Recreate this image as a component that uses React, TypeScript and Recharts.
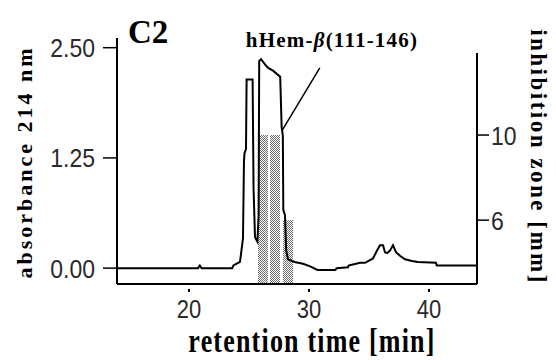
import React from 'react';
import { ComposedChart, Line, XAxis, YAxis, ReferenceLine, ReferenceArea } from 'recharts';

// retention time [min] of the absorbance trace
const retentionTime = [
  14.0, 20.75, 20.9, 21.05, 23.6, 23.7, 24.25, 24.5, 24.58, 24.62, 24.75, 24.8,
  25.3, 25.38, 25.5, 25.7, 25.8, 25.85, 26.0, 26.4, 26.6, 27.0, 27.6, 27.72,
  27.82, 27.86, 28.0, 28.1, 28.25, 28.8, 29.5, 30.1, 30.7, 32.2, 32.3, 33.25,
  33.3, 34.25, 34.67, 35.08, 35.33, 35.67, 35.92, 36.17, 36.33, 36.5, 36.75,
  37.0, 37.25, 37.58, 38.0, 38.58, 39.08, 40.58, 40.65, 44.0,
];
// absorbance 214 nm
const absorbance = [
  0.0, 0.0, 0.03, 0.0, 0.0, 0.03, 0.07, 0.34, 1.2, 1.3, 1.35, 2.14,
  2.14, 0.9, 0.35, 0.3, 0.6, 2.35, 2.37, 2.3, 2.27, 2.24, 2.17, 1.6,
  1.5, 0.66, 0.6, 0.2, 0.1, 0.07, 0.05, 0.02, -0.02, -0.02, 0.0, 0.01,
  0.03, 0.06, 0.06, 0.09, 0.11, 0.2, 0.26, 0.26, 0.18, 0.17, 0.2,
  0.26, 0.18, 0.14, 0.1, 0.08, 0.07, 0.06, 0.03, 0.03,
];
// collected fractions (start / end of collection, min) and their inhibition zones [mm]
const fractionStart = [25.75, 26.75, 27.83];
const fractionEnd = [26.58, 27.58, 28.67];
const inhibitionZone = [10, 10, 6];

const xTicks = [20, 30, 40];
const leftTicks = [0, 1.25, 2.5];
const rightTicks = [6, 10];

// annotation pointer (retention time, absorbance)
const pointerTime = [30.9, 27.75];
const pointerAbs = [2.27, 1.56];

const traceData = retentionTime.map((t, i) => ({ t, abs: absorbance[i] }));

const serif = '"Liberation Serif", "Times New Roman", serif';
const sans = '"Liberation Sans", Arial, sans-serif';

const XTick = (props: any) => {
  const { x, y, payload } = props;
  return (
    <g>
      <line x1={x} x2={x} y1={y + 5} y2={y + 8} stroke="#000" strokeWidth={2} />
      <text
        transform={`translate(${x},${y + 34}) scale(1,1.15)`}
        textAnchor="middle"
        fontFamily={sans}
        fontSize={22}
        fill="#2a2a2a"
      >
        {payload.value}
      </text>
    </g>
  );
};

const LeftTick = (props: any) => {
  const { x, y, payload } = props;
  return (
    <g>
      <line x1={x - 14} x2={x} y1={y} y2={y} stroke="#000" strokeWidth={1.5} />
      <text
        transform={`translate(${x - 22},${y}) scale(1,1.15)`}
        dy="0.36em"
        textAnchor="end"
        fontFamily={sans}
        fontSize={23}
        fill="#2a2a2a"
      >
        {Number(payload.value).toFixed(2)}
      </text>
    </g>
  );
};

const RightTick = (props: any) => {
  const { x, y, payload } = props;
  return (
    <g>
      <line x1={x} x2={x + 12} y1={y} y2={y} stroke="#000" strokeWidth={1.5} />
      <text
        transform={`translate(${x + 14},${y}) scale(1,1.15)`}
        dy="0.36em"
        textAnchor="start"
        fontFamily={sans}
        fontSize={23}
        fill="#2a2a2a"
      >
        {payload.value}
      </text>
    </g>
  );
};

export default function App() {
  return (
    <div style={{ position: 'absolute', left: 0, top: 0, width: 556, height: 360, background: '#fff' }}>
      <ComposedChart
        width={556}
        height={360}
        data={traceData}
        margin={{ top: 38, right: 0, bottom: 0, left: 0 }}
      >
        <defs>
          <pattern id="stipple" width="2" height="2" patternUnits="userSpaceOnUse">
            <rect x="0" y="0" width="2" height="2" fill="#ffffff" />
            <rect x="0" y="0" width="1" height="1" fill="#6a6a6a" />
            <rect x="1" y="1" width="1" height="1" fill="#6a6a6a" />
          </pattern>
        </defs>
        <XAxis
          dataKey="t"
          type="number"
          domain={[14, 44]}
          ticks={xTicks}
          height={76}
          axisLine={{ stroke: '#000', strokeWidth: 2 }}
          tickLine={false}
          tickSize={0}
          tickMargin={0}
          tick={<XTick />}
          interval={0}
        />
        <YAxis
          yAxisId="left"
          orientation="left"
          width={117}
          type="number"
          domain={[-0.18, 2.61]}
          ticks={leftTicks}
          interval={0}
          axisLine={{ stroke: '#000', strokeWidth: 2 }}
          tickLine={false}
          tickSize={0}
          tickMargin={0}
          tick={<LeftTick />}
        />
        <YAxis
          yAxisId="right"
          orientation="right"
          width={79}
          type="number"
          domain={[3, 14.56]}
          allowDataOverflow
          ticks={rightTicks}
          interval={0}
          axisLine={false}
          tickLine={false}
          tickSize={0}
          tickMargin={0}
          tick={<RightTick />}
        />
        {fractionStart.map((s, i) => (
          <ReferenceArea
            key={i}
            yAxisId="right"
            x1={s}
            x2={fractionEnd[i]}
            y1={3}
            y2={inhibitionZone[i]}
            fill="url(#stipple)"
            fillOpacity={1}
            stroke="none"
            ifOverflow="visible"
          />
        ))}
        <Line
          yAxisId="left"
          dataKey="abs"
          type="linear"
          stroke="#000"
          strokeWidth={2}
          dot={false}
          activeDot={false}
          isAnimationActive={false}
        />
        <ReferenceLine
          yAxisId="left"
          segment={[
            { x: pointerTime[0], y: pointerAbs[0] },
            { x: pointerTime[1], y: pointerAbs[1] },
          ]}
          stroke="#000"
          strokeWidth={1.5}
          ifOverflow="visible"
        />
        <ReferenceLine
          yAxisId="right"
          segment={[
            { x: 44, y: 3 },
            { x: 44, y: 13.86 },
          ]}
          stroke="#000"
          strokeWidth={2}
          ifOverflow="visible"
        />
      </ComposedChart>
      <svg
        width={556}
        height={360}
        style={{ position: 'absolute', left: 0, top: 0, pointerEvents: 'none' }}
      >
        <text x={128} y={43} fontFamily={serif} fontWeight="bold" fontSize={33} fill="#000">
          C2
        </text>
        <text
          x={332}
          y={47}
          textAnchor="middle"
          fontFamily={serif}
          fontWeight="bold"
          fontSize={21}
          letterSpacing={1.2}
          fill="#000"
        >
          hHem-<tspan fontStyle="italic">β</tspan>(111-146)
        </text>
        <text
          transform="translate(32,162) rotate(-90)"
          textAnchor="middle"
          fontFamily={serif}
          fontWeight="bold"
          fontSize={22}
          letterSpacing={3}
          fill="#000"
        >
          absorbance 214 nm
        </text>
        <text
          transform="translate(531,157) rotate(90)"
          textAnchor="middle"
          fontFamily={serif}
          fontWeight="bold"
          fontSize={23}
          letterSpacing={2.5}
          fill="#000"
        >
          inhibition zone [mm]
        </text>
        <text
          transform="translate(312,352) scale(1,1.3)"
          textAnchor="middle"
          fontFamily={serif}
          fontWeight="bold"
          fontSize={26}
          letterSpacing={1.2}
          fill="#000"
        >
          retention time [min]
        </text>
      </svg>
    </div>
  );
}
